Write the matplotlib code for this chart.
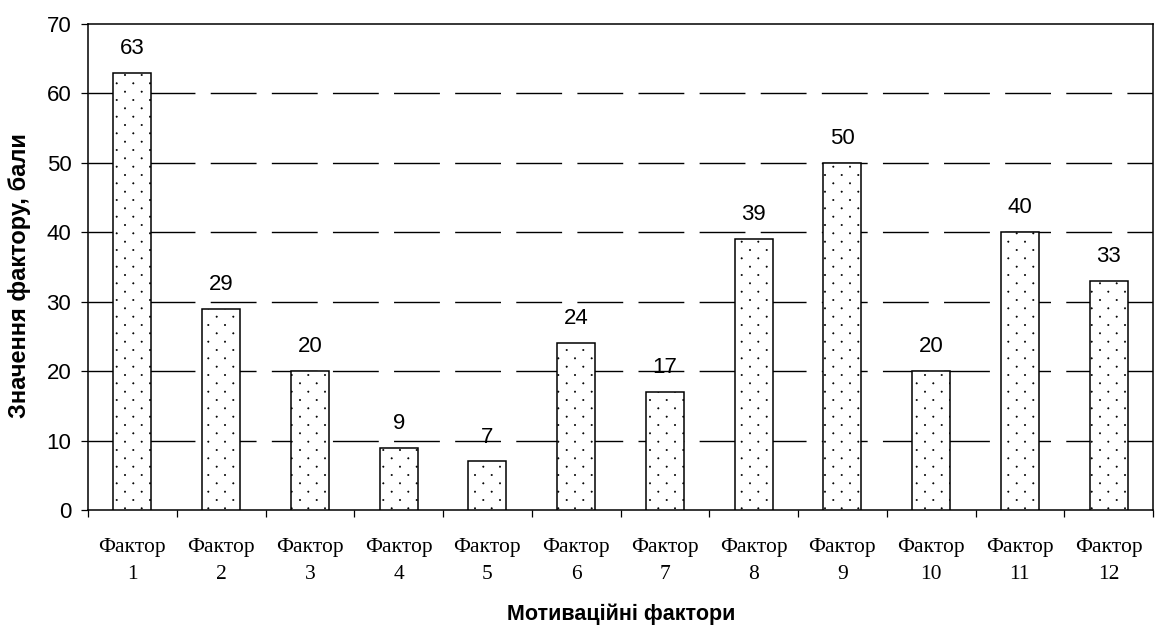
import numpy as np
import matplotlib
matplotlib.use("Agg")
import matplotlib.pyplot as plt
import matplotlib.hatch as mhatch
from matplotlib.path import Path

# chart data
categories = ["Фактор\n1", "Фактор\n2", "Фактор\n3", "Фактор\n4", "Фактор\n5", "Фактор\n6",
              "Фактор\n7", "Фактор\n8", "Фактор\n9", "Фактор\n10", "Фактор\n11", "Фактор\n12"]
values = [63, 29, 20, 9, 7, 24, 17, 39, 50, 20, 40, 33]
y_ticks = [0, 10, 20, 30, 40, 50, 60, 70]
y_label = "Значення фактору, бали"
x_label = "Мотиваційні фактори"


# sparse staggered dot pattern (like the Excel fill), replaces the '.' hatch
class SparseDots(mhatch.HatchPatternBase):
    def __init__(self, hatch, density):
        n = hatch.count('.')
        cols, rows = 6 * n, 12 * n
        circle = Path.unit_circle()
        self.shape_vertices = circle.vertices * 0.007
        self.shape_codes = circle.codes
        self.centers = []
        for r in range(rows + 1):
            shift = 0.5 / cols if r % 2 else 0.0
            for c in range(cols + 1):
                self.centers.append((c / cols + shift, r / rows))
        self.filled = True
        self.num_vertices = len(self.centers) * len(self.shape_vertices)

    def set_vertices_and_codes(self, vertices, codes):
        nv = len(self.shape_vertices)
        for i, (cx, cy) in enumerate(self.centers):
            vertices[i * nv:(i + 1) * nv] = self.shape_vertices + (cx, cy)
            codes[i * nv:(i + 1) * nv] = self.shape_codes


mhatch._hatch_types = [SparseDots if h is mhatch.SmallFilledCircles else h
                       for h in mhatch._hatch_types]

plt.rcParams['font.family'] = ['Liberation Sans', 'DejaVu Sans']
plt.rcParams['hatch.linewidth'] = 0.4

W, H = 1156, 625
fig = plt.figure(figsize=(W / 100, H / 100), dpi=100)
ax = fig.add_axes([88 / W, (H - 510) / H, (1153 - 88) / W, (510 - 24) / H])

x = np.arange(len(values))
ax.bar(x, values, width=0.43, color='white', edgecolor='black',
       linewidth=1.1, hatch='.', zorder=3)

# long-dash horizontal gridlines
for yv in y_ticks[1:-1]:
    ax.axhline(yv, color='black', linewidth=1.0, dashes=(33, 11), zorder=1)

for xi, v in zip(x, values):
    ax.annotate(str(v), (xi, v), xytext=(0, 10), textcoords='offset points',
                ha='center', va='bottom', fontsize=16)

ax.set_xlim(-0.5, len(values) - 0.5)
ax.set_ylim(0, 70)
ax.set_yticks(y_ticks)
ax.tick_params(axis='y', direction='out', length=5, width=0.9, labelsize=16, pad=7)

ax.set_xticks(x)
ax.set_xticklabels(categories, family=['Liberation Serif', 'DejaVu Serif'],
                   fontsize=15.5, linespacing=1.6)
ax.set_xticks(np.arange(len(values) + 1) - 0.5, minor=True)
ax.tick_params(axis='x', which='major', length=0, pad=20)
ax.tick_params(axis='x', which='minor', direction='out', length=5, width=0.9)

for s in ax.spines.values():
    s.set_linewidth(1.1)

fig.text(20 / W, (H - 276) / H, y_label, rotation=90, ha='center', va='center',
         fontsize=17, fontweight='bold')
fig.text(621 / W, 5 / H, x_label, ha='center', va='baseline',
         fontsize=15.5, fontweight='bold')

fig.savefig("out.png", dpi=100)
